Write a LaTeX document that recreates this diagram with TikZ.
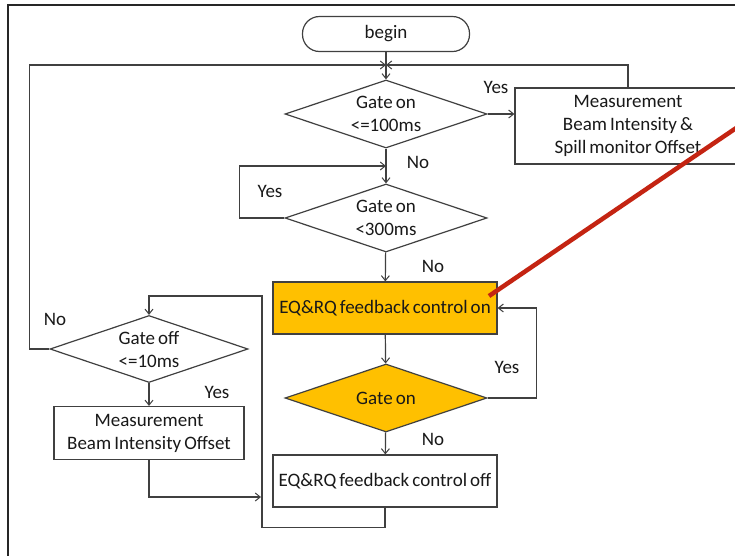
\documentclass[tikz,border=0pt]{standalone}
\usepackage{fontspec}
\setmainfont{Carlito}
\usetikzlibrary{shapes.geometric,arrows.meta}
\definecolor{flowline}{RGB}{64,64,64}
\definecolor{hotfill}{RGB}{255,192,0}
\definecolor{pointer}{RGB}{196,36,18}
\newcommand{\flowfont}{\fontsize{19}{23}\selectfont\spaceskip=0.16em plus 0.05em minus 0.05em\relax}
\begin{document}
\begin{tikzpicture}[x=1pt,y=-1pt,
  every node/.style={font=\flowfont, text=black!90},
  ln/.style={draw=flowline, line width=1.2pt},
  arr/.style={ln, -{Straight Barb[length=5pt,width=8pt,line width=1pt]}},
  dia/.style={diamond, ln, aspect=3, inner sep=0pt, minimum width=202pt, minimum height=68pt, align=center},
  box/.style={rectangle, ln, align=center, inner sep=2pt},
  hot/.style={fill=hotfill},
  lab/.style={inner sep=0pt}
]
\useasboundingbox (0,0) rectangle (735,555);
\clip (0,0) rectangle (735,555);
\fill[white] (0,0) rectangle (735,555);

% outer frame
\draw[line width=2pt, black!85] (8,565) -- (8,5) -- (745,5);

% nodes
\node[box, rounded corners=17pt, minimum width=167pt, minimum height=35pt] (begin) at (386,34) {begin};
\node[dia] (d1) at (386,114) {Gate on\\<=100ms};
\node[box, minimum width=226pt, minimum height=76pt] (m1) at (628,126) {Measurement\\Beam Intensity \&\\Spill monitor Offset};
\node[dia] (d2) at (386,218) {Gate on\\<300ms};
\node[box, hot, minimum width=224pt, minimum height=52pt] (on) at (385,308) {EQ\&RQ feedback control on};
\node[dia, hot] (d3) at (386,398) {Gate on};
\node[box, minimum width=224pt, minimum height=52pt] (off) at (385,481) {EQ\&RQ feedback control off};
\node[dia, minimum width=198pt, minimum height=67pt] (d4) at (149,349) {Gate off\\<=10ms};
\node[box, minimum width=190pt, minimum height=53pt] (m2) at (149,433) {Measurement\\Beam Intensity Offset};

% junction points
\coordinate (j1) at (386,65);
\coordinate (j2) at (386,166);
\coordinate (r1) at (262,296);
\coordinate (r2) at (261,497);

% connectors
\draw[arr] (begin) -- (d1);
\draw[arr] (d1.east) -- (d1.east -| m1.west);
\draw[arr] (m1.north) |- (j1);
\draw[arr] (d1) -- (d2);
\draw[arr] (d2.west) -- ++(-45,0) |- (j2);
\draw[arr] (d2) -- (on);
\draw[arr] (on) -- (d3);
\draw[arr] (d3.east) -- ++(49,0) |- (on.east);
\draw[arr] (d3) -- (off);
\draw[arr] (off.south) -- ++(0,20) -| (r1) -| (d4.north);
\draw[arr] (d4.west) -- ++(-20,0) |- (j1);
\draw[arr] (d4) -- (m2);
\draw[arr] (m2.south) |- (r2);

% branch labels
\node[lab] (y1) at (496,87) {Yes};
\node[lab] (n1) at (418,162) {No};
\node[lab] (y2) at (270,191) {Yes};
\node[lab] (n2) at (433,266) {No};
\node[lab] (y3) at (507,367) {Yes};
\node[lab] (n3) at (433,439) {No};
\node[lab] (n4) at (55,319) {No};
\node[lab] (y4) at (217,392) {Yes};

% pointer line
\coordinate (p1) at (489,296);
\coordinate (p2) at (745,122);
\draw[pointer, line width=4.5pt] (p1) -- (p2);
\end{tikzpicture}
\end{document}
